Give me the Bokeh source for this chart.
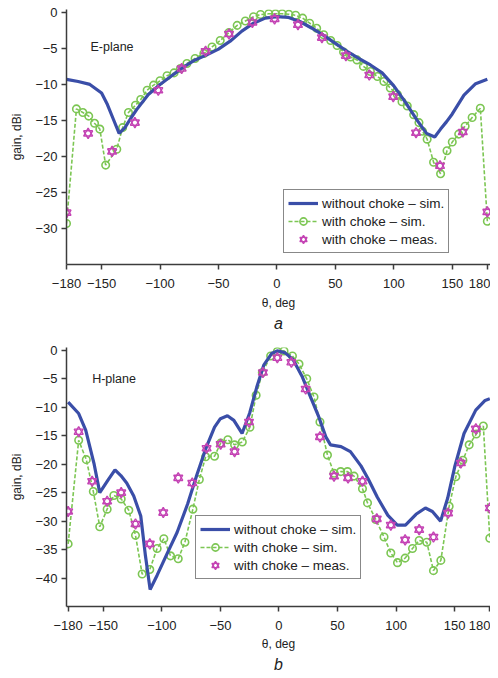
from bokeh.plotting import figure
from bokeh.models import Legend, LegendItem, Label, FixedTicker, Range1d, Title
from bokeh.layouts import column
from bokeh.embed import file_html
from bokeh.resources import INLINE

# ---------------- data: E-plane ----------------
e_blue_theta = [-180, -170, -160, -150, -145, -140, -135, -130, -125, -120, -110, -100, -90, -80, -70, -60,
                -50, -40, -30, -20, -10, 0, 10, 20, 30, 40, 50, 60, 70, 80, 90, 100, 110, 120, 128, 135,
                140, 145, 150, 160, 170, 180]
e_blue_gain = [-9.3, -9.6, -10.0, -11.2, -12.8, -14.8, -16.8, -16.0, -14.7, -13.5, -11.4, -10.0, -8.8, -7.6,
               -6.6, -5.9, -5.1, -4.0, -2.6, -1.5, -0.8, -0.6, -0.7, -1.3, -2.2, -3.2, -4.3, -5.4, -6.4,
               -7.3, -8.4, -10.2, -12.5, -15.0, -16.8, -17.3, -16.2, -15.2, -14.1, -11.5, -9.9, -9.3]

e_green_theta = [-180, -171.5, -166, -161, -156, -151.5, -146.5, -137, -132, -127, -121, -116.5, -111, -105.5,
                 -100, -94, -88, -82.5, -77, -70, -62.5, -55.5, -48.5, -41, -34, -27, -20, -14, -7, -1.2,
                 4.5, 10.2, 16, 22, 28, 34, 40, 46, 51.5, 57, 63, 68.5, 74, 80, 86, 91.5, 97, 103, 107,
                 111.5, 117, 121.5, 124.5, 128.5, 134, 140, 145.5, 150, 155.5, 161, 167, 174, 180]
e_green_gain = [-29.3, -13.4, -13.9, -14.4, -15.4, -16.2, -21.2, -19.0, -16.0, -13.9, -12.9, -12.1, -10.8, -10.1,
                -9.5, -8.8, -8.4, -7.8, -7.1, -6.4, -5.7, -4.8, -3.9, -2.8, -1.8, -1.2, -0.6, -0.3, -0.2,
                -0.2, -0.2, -0.25, -0.4, -0.8, -1.5, -2.2, -3.1, -3.9, -4.6, -5.5, -6.2, -6.6, -7.5, -8.2,
                -8.9, -9.6, -10.5, -11.4, -12.4, -13.0, -14.2, -15.3, -16.5, -17.6, -20.8, -22.4, -19.2,
                -18.0, -16.9, -15.8, -14.6, -13.3, -29.0]

e_meas_theta = [-180, -161.5, -141, -121.5, -101.5, -81.5, -61, -41, -21, -2, 18, 38.5, 59, 79, 99.5, 119,
                139.5, 159, 180]
e_meas_gain = [-27.8, -16.8, -19.3, -15.3, -10.8, -7.8, -5.4, -3.0, -1.4, -0.9, -1.7, -3.5, -6.0, -8.7, -11.7,
               -16.7, -21.3, -16.6, -27.7]

# ---------------- data: H-plane ----------------
h_blue_theta = [-180, -171, -165, -158, -153, -146, -140, -135, -130, -124, -118, -114, -110, -104, -95, -87,
                -78, -70, -62, -55, -50, -44, -38.5, -31.5, -25, -19, -13, -6, -1.5, 5, 12, 20, 27, 34, 40,
                44, 53, 61, 70, 76, 84, 93, 101, 108, 117, 125, 131, 138, 144, 150, 158, 168, 176, 180]
h_blue_gain = [-9.1, -11.1, -14.0, -19.8, -25.0, -22.8, -21.0, -22.0, -23.3, -25.6, -29.1, -36.1, -42.0, -39.5,
               -35.5, -32.0, -27.0, -21.8, -17.0, -13.5, -12.0, -11.5, -12.3, -14.6, -11.0, -6.5, -2.6, -0.5,
               -0.1, -0.4, -1.6, -4.7, -8.2, -11.7, -15.2, -16.6, -16.9, -17.8, -20.3, -22.5, -25.8, -29.0,
               -30.7, -30.7, -28.8, -27.7, -28.3, -30.0, -26.0, -20.5, -14.6, -10.5, -8.8, -8.5]

h_green_theta = [-180, -171, -164.5, -158.5, -153, -146.7, -141, -134.7, -128.2, -122.5, -116.8, -110.3, -104,
                 -98.3, -92.6, -86, -80.3, -73.5, -68, -62.6, -55, -49.8, -43.6, -37.9, -31.3, -24.8, -19.5,
                 -14.2, -7.1, -1.4, 4.3, 11.5, 17.1, 23.7, 29.9, 35, 41.4, 47, 52.7, 58.5, 64.1, 71.3, 75.6,
                 82.6, 89.7, 95.5, 101.2, 107.7, 114, 119.7, 126.2, 131.9, 138.2, 145.3, 151, 157, 162.4,
                 168.5, 174.5, 180]
h_green_gain = [-34.0, -15.8, -19.2, -24.8, -31.0, -27.9, -25.5, -26.1, -28.1, -32.5, -39.3, -38.5, -34.8, -33.1,
                -36.1, -36.6, -33.7, -27.9, -22.7, -18.7, -18.6, -16.3, -15.7, -16.6, -16.1, -13.5, -7.9, -3.9,
                -1.0, -0.2, -0.1, -1.0, -2.4, -5.0, -8.2, -12.6, -18.4, -21.6, -21.3, -21.3, -22.1, -24.3,
                -26.8, -29.7, -32.8, -35.6, -37.3, -36.5, -34.8, -33.4, -33.7, -38.7, -36.9, -27.4, -22.2,
                -19.3, -16.6, -14.7, -13.3, -33.0]

h_meas_theta = [-180, -171, -159.5, -146.7, -134.7, -122.5, -110.3, -98.8, -86, -74, -61.8, -49.8, -37.9,
                -25.6, -13.7, -1.4, 10.6, 22.8, 35, 47, 59, 71.3, 83.5, 95.5, 107.7, 119.7, 131.9, 144.4,
                155.3, 168.1, 180]
h_meas_gain = [-28.3, -14.3, -23.0, -26.5, -25.0, -30.5, -34.0, -28.5, -22.4, -23.3, -17.2, -16.5, -17.8, -12.6,
               -3.9, -1.3, -2.1, -6.8, -15.2, -22.1, -22.4, -23.0, -29.6, -30.7, -33.3, -31.5, -32.8, -28.6,
               -19.8, -13.8, -27.7]

x_ticks = [-180, -150, -100, -50, 0, 50, 100, 150, 180]
e_y_ticks = [0, -5, -10, -15, -20, -25, -30]
h_y_ticks = [0, -5, -10, -15, -20, -25, -30, -35, -40]

labels = ["without choke \u2013 sim.", "with choke \u2013 sim.", "with choke \u2013 meas."]

BLUE = "#3a4ea8"
GREEN = "#7cc653"
MAG = "#c443b4"
AX = "#3c3c3c"
FONT = "Liberation Sans"


def minus(v):
    return str(v).replace("-", "\u2212")


def make_fig(xr, yr, fh, top_border, yticks, plane, gt, gg, mt, mg, blt, blg, leg_loc, letter,
             label_y, xlab_standoff, title_standoff):
    p = figure(frame_width=424, frame_height=fh, x_range=Range1d(*xr), y_range=Range1d(*yr),
               output_backend="svg", toolbar_location=None,
               min_border_left=66, min_border_right=0, min_border_top=top_border, min_border_bottom=0)
    p.grid.visible = False
    p.outline_line_color = None
    p.background_fill_color = "white"
    p.border_fill_color = "white"

    p.xaxis.ticker = FixedTicker(ticks=x_ticks)
    p.yaxis.ticker = FixedTicker(ticks=yticks)
    p.xaxis.major_label_overrides = {v: minus(v) for v in x_ticks}
    p.yaxis.major_label_overrides = {v: minus(v) for v in yticks}
    for ax in (p.xaxis[0], p.yaxis[0]):
        ax.axis_line_color = AX
        ax.axis_line_width = 1.5
        ax.major_tick_line_color = AX
        ax.major_tick_line_width = 1.5
        ax.major_tick_out = 5
        ax.major_tick_in = 0
        ax.minor_tick_line_color = None
        ax.major_label_text_font = FONT
        ax.major_label_text_font_size = "13px"
        ax.major_label_text_color = "#222222"
        ax.axis_label_text_font = FONT
        ax.axis_label_text_font_size = "12px"
        ax.axis_label_text_font_style = "normal"
        ax.axis_label_text_color = "#222222"
    p.xaxis.axis_label = "\u03b8, deg"
    p.yaxis.axis_label = "gain, dBi"
    p.xaxis.major_label_standoff = 9
    p.xaxis.axis_label_standoff = xlab_standoff
    p.yaxis.major_label_standoff = 4
    p.yaxis.axis_label_standoff = 8

    gl = p.line(gt, gg, line_color=GREEN, line_dash="4 2", line_width=1.6)
    gc = p.scatter(gt, gg, marker="circle", size=7.5, line_color=GREEN, fill_color=None, line_width=1.6)
    bl = p.line(blt, blg, line_color=BLUE, line_width=3.2)
    t1 = p.scatter(mt, mg, marker="triangle", size=9, line_color=MAG, fill_color=None, line_width=1.4)
    t2 = p.scatter(mt, mg, marker="inverted_triangle", size=9, line_color=MAG, fill_color=None,
                   line_width=1.4)

    legend = Legend(items=[LegendItem(label=labels[0], renderers=[bl]),
                           LegendItem(label=labels[1], renderers=[gl, gc]),
                           LegendItem(label=labels[2], renderers=[t1, t2])],
                    location=leg_loc, orientation="vertical")
    legend.border_line_color = "#111111"
    legend.border_line_width = 1.2
    legend.background_fill_color = "white"
    legend.background_fill_alpha = 1
    legend.padding = 4
    legend.spacing = 0
    legend.margin = 0
    legend.glyph_width = 30
    legend.glyph_height = 18
    legend.label_height = 18
    legend.label_standoff = 4
    legend.label_text_font = FONT
    legend.label_text_font_size = "13.5px"
    legend.label_text_color = "#222222"
    p.add_layout(legend)

    p.add_layout(Label(x=-159.5, y=label_y, text=plane, text_baseline="middle", text_font=FONT,
                       text_font_size="12.5px", text_color="#222222"))

    p.add_layout(Title(text=letter, align="center", text_font_style="italic", text_font_size="16px",
                       text_font=FONT, text_color="#222222", standoff=title_standoff, offset=0), "below")
    return p


p1 = make_fig((-180, 182.7), (-35, 0.4), 255, 9, e_y_ticks, "E-plane",
              e_green_theta, e_green_gain, e_meas_theta, e_meas_gain, e_blue_theta, e_blue_gain,
              (217, 11), "a", -4.8, 5, 0)
p2 = make_fig((-181.4, 180.6), (-45, 0.5), 259, 16, h_y_ticks, "H-plane",
              h_green_theta, h_green_gain, h_meas_theta, h_meas_gain, h_blue_theta, h_blue_gain,
              (129, 27), "b", -5.0, 4, 0)

layout = column(p1, p2, spacing=0)
open("out.html", "w").write(file_html(layout, INLINE))
